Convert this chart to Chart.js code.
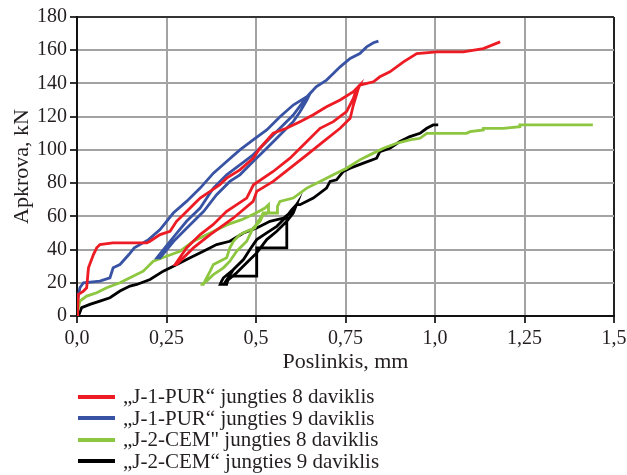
<!DOCTYPE html>
<html>
<head>
<meta charset="utf-8">
<script src="https://cdn.jsdelivr.net/npm/chart.js@4.4.1/dist/chart.umd.min.js"></script>
<style>
  html, body { margin: 0; padding: 0; background: #fff; }
  #wrap { position: relative; width: 627px; height: 475px; }
  #legend { position: absolute; left: 78px; top: 386px; font-family: 'Liberation Serif', 'Times New Roman', serif; font-size: 21px; color: #231f20; }
  .row { height: 21.5px; line-height: 21.5px; white-space: nowrap; display: flex; align-items: center; }
  .swatch { display: inline-block; width: 37px; height: 4px; margin-right: 8px; }
</style>
</head>
<body>
<div id="wrap">
  <canvas id="chart" width="627" height="475"></canvas>
  <div id="legend"></div>
</div>
<script>
// axis ticks
const xTickLabels = ["0,0", "0,25", "0,5", "0,75", "1,0", "1,25", "1,5"];

const seriesNames = [
  "„J-1-PUR“ jungties 8 daviklis",
  "„J-1-PUR“ jungties 9 daviklis",
  "„J-2-CEM\" jungties 8 daviklis",
  "„J-2-CEM“ jungties 9 daviklis"
];
const seriesColors = ["#ed1c24", "#3953a4", "#8dc63f", "#000000"];

// J-1-PUR 8: load, unload, reload, then on to failure
const redX = [0, 0.002, 0.004, 0.018, 0.027, 0.032, 0.046, 0.055, 0.064, 0.1, 0.15, 0.195, 0.204, 0.232, 0.26, 0.278, 0.297, 0.325, 0.344, 0.372, 0.399, 0.418, 0.455, 0.492, 0.511, 0.548, 0.585, 0.623, 0.659, 0.697, 0.735, 0.772, 0.79,
  0.786, 0.772, 0.763, 0.735, 0.688, 0.642, 0.595, 0.548, 0.502, 0.492, 0.437, 0.372, 0.325, 0.278,
  0.274, 0.306, 0.344, 0.38, 0.418, 0.474, 0.493, 0.548, 0.595, 0.642, 0.679, 0.716, 0.753, 0.772, 0.781, 0.79,
  0.828, 0.846, 0.874, 0.912, 0.949, 1.005, 1.079, 1.135, 1.182];
const redY = [0, 6, 13, 15, 17, 29, 37, 41, 43, 44, 44, 44, 45, 49, 51, 57, 61, 67, 71, 75, 79, 83, 88, 95, 101, 110, 113, 117, 121, 126, 130, 135, 139,
  137, 127, 119, 113, 105, 97, 89, 81, 75, 69, 59, 49, 41, 31,
  31, 41, 49, 55, 63, 71, 79, 87, 95, 105, 113, 117, 123, 131, 137, 139,
  141, 144, 147, 153, 158, 159, 159, 161, 165];

// J-1-PUR 9
const blueX = [0, 0.001, 0.008, 0.018, 0.064, 0.092, 0.101, 0.12, 0.145, 0.16, 0.2, 0.232, 0.269, 0.306, 0.344, 0.381, 0.418, 0.455, 0.492, 0.53, 0.567, 0.604, 0.642, 0.66,
  0.651, 0.642, 0.623, 0.604, 0.567, 0.53, 0.492, 0.455, 0.427, 0.39, 0.354, 0.316, 0.27, 0.232,
  0.223, 0.26, 0.306, 0.344, 0.381, 0.418, 0.455, 0.492, 0.53, 0.567, 0.604, 0.632, 0.651, 0.668,
  0.697, 0.716, 0.735, 0.763, 0.79, 0.809, 0.828, 0.842];
const blueY = [0, 9, 17, 20, 21, 23, 29, 31, 37, 41, 46, 52, 62, 69, 77, 86, 93, 100, 106, 112, 120, 127, 132, 136,
  134, 130, 123, 117, 109, 101, 93, 85, 81, 73, 63, 55, 45, 35,
  35, 45, 57, 65, 77, 85, 91, 97, 105, 113, 121, 129, 134, 138,
  142, 146, 150, 155, 158, 162, 164.5, 165.5];

// J-2-CEM 8
const greenX = [0, 0.001, 0.008, 0.027, 0.055, 0.083, 0.12, 0.148, 0.185, 0.213, 0.25, 0.288, 0.325, 0.372, 0.42, 0.46, 0.5, 0.525, 0.535, 0.535,
  0.52, 0.516, 0.506, 0.497, 0.474, 0.455, 0.437, 0.427, 0.418, 0.399, 0.381, 0.372, 0.362, 0.353, 0.345,
  0.348, 0.362, 0.381, 0.409, 0.427, 0.446, 0.474, 0.492, 0.511, 0.52, 0.535, 0.56, 0.56,
  0.567, 0.604, 0.642, 0.679, 0.716, 0.753, 0.79, 0.818, 0.856, 0.893, 0.93, 0.958, 0.977, 1.088, 1.098, 1.135, 1.135, 1.191, 1.237, 1.237, 1.441];
const greenY = [0, 2, 9, 12, 14, 17, 20, 23, 27, 33, 36, 39, 45, 50, 55, 58, 62, 65, 67, 62,
  62, 60, 57, 53, 51, 49, 45, 41, 35, 33, 31, 27, 23, 19, 19,
  19, 21, 25, 29, 33, 39, 45, 53, 57, 61, 62, 62, 66,
  69, 71, 77, 81, 85, 89, 94, 97, 101, 104, 106, 107, 110, 110, 111, 112, 113, 113, 114, 115, 115];

// J-2-CEM 9
const blackX = [0, 0.004, 0.013, 0.036, 0.064, 0.092, 0.12, 0.148, 0.167, 0.204, 0.241, 0.279, 0.316, 0.353, 0.39, 0.427, 0.465, 0.502, 0.539, 0.577, 0.6, 0.613,
  0.6, 0.586, 0.586, 0.502, 0.502, 0.437, 0.423, 0.418, 0.4,
  0.404, 0.409, 0.437, 0.465, 0.483, 0.502, 0.53, 0.558, 0.586, 0.604, 0.613,
  0.604, 0.586, 0.558, 0.53, 0.502, 0.474, 0.446, 0.418, 0.41,
  0.437, 0.465, 0.483, 0.502, 0.53, 0.558, 0.586, 0.604, 0.613,
  0.623, 0.66, 0.697, 0.707, 0.725, 0.744, 0.763, 0.8, 0.837, 0.846, 0.874, 0.902, 0.93, 0.958, 0.977, 0.995, 1.009];
const blackY = [0, 0, 5, 7, 9, 11, 15, 18, 19, 22, 27, 31, 35, 39, 43, 45, 50, 53, 57, 59, 63, 67,
  64, 60, 41, 41, 24, 24, 23, 19, 19,
  21, 23, 28, 34, 40, 46, 50, 54, 60, 64, 67,
  62, 57, 51, 46, 38, 32, 26, 21, 19,
  28, 34, 40, 46, 50, 54, 60, 64, 67,
  67, 71, 77, 81, 82, 87, 89, 92, 95, 99, 101, 105, 108, 110, 113, 115, 115];

const pts = (xs, ys) => xs.map((x, i) => ({ x: x, y: ys[i] }));
const allX = [redX, blueX, greenX, blackX];
const allY = [redY, blueY, greenY, blackY];

const font = { family: "'Liberation Serif', 'Times New Roman', serif", size: 20 };
const titleFont = { family: "'Liberation Serif', 'Times New Roman', serif", size: 22 };
const textColor = "#231f20";

new Chart(document.getElementById("chart").getContext("2d"), {
  type: "scatter",
  data: {
    datasets: seriesNames.map((name, i) => ({
      label: name,
      data: pts(allX[i], allY[i]),
      showLine: true,
      borderColor: seriesColors[i],
      backgroundColor: seriesColors[i],
      borderWidth: 2.8,
      pointRadius: 0,
      tension: 0
    }))
  },
  options: {
    responsive: false,
    animation: false,
    layout: { padding: { top: 17, right: 13, bottom: 100, left: 0 } },
    plugins: { legend: { display: false }, tooltip: { enabled: false } },
    scales: {
      x: {
        type: "linear", min: 0, max: 1.5,
        // fixed box, so the last label may hang into the right margin
        afterFit: s => { s.height = 59; s.paddingRight = 0; s.paddingLeft = 0; },
        ticks: { stepSize: 0.25, callback: (v, i) => xTickLabels[i], font: font, color: textColor, padding: 4, maxRotation: 0 },
        grid: { color: c => (c.tick && c.tick.value === 1.5 ? "#222" : "#a3a3a3"), lineWidth: 2, tickLength: 7, tickColor: "#333" },
        border: { color: "#111", width: 2 },
        title: { display: true, text: "Poslinkis, mm", font: titleFont, color: textColor, padding: { top: 0, bottom: 0 } }
      },
      y: {
        min: 0, max: 180,
        afterFit: s => { s.width = 77; },
        ticks: { stepSize: 20, font: font, color: textColor, padding: 3 },
        grid: { color: c => (c.tick && c.tick.value === 180 ? "#333" : "#a3a3a3"), lineWidth: 2, tickLength: 7, tickColor: "#333" },
        border: { color: "#111", width: 2 },
        title: { display: true, text: "Apkrova, kN", font: titleFont, color: textColor, padding: { top: 9, bottom: 0 } }
      }
    }
  }
});

// legend below the plot
const legend = document.getElementById("legend");
seriesNames.forEach((name, i) => {
  const row = document.createElement("div");
  row.className = "row";
  const sw = document.createElement("span");
  sw.className = "swatch";
  sw.style.background = seriesColors[i];
  const txt = document.createElement("span");
  txt.textContent = name;
  row.appendChild(sw);
  row.appendChild(txt);
  legend.appendChild(row);
});
</script>
</body>
</html>
